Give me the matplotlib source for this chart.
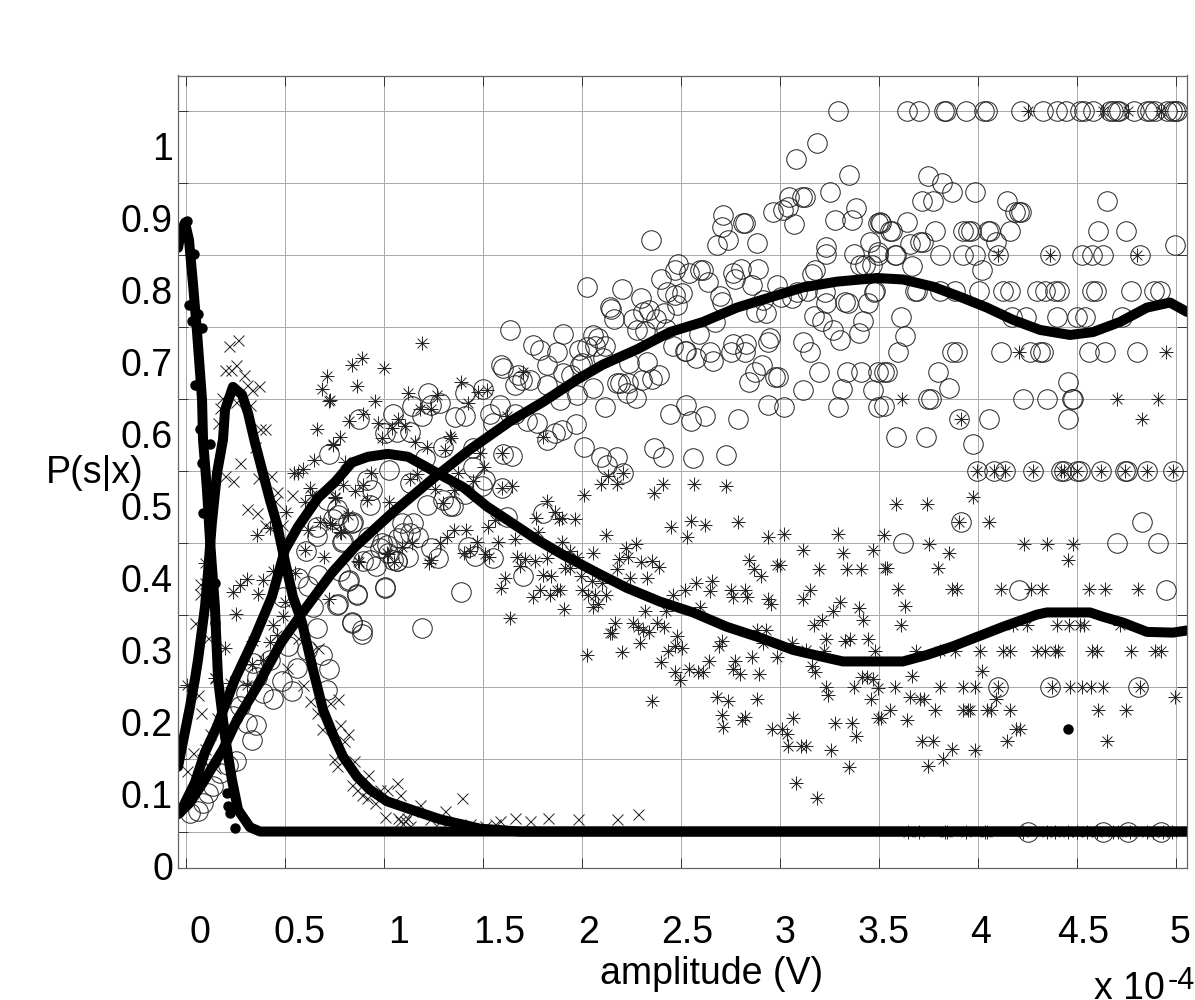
import numpy as np
import matplotlib
matplotlib.use("Agg")
import matplotlib.pyplot as plt
from matplotlib.path import Path

plt.rcParams['font.family'] = ['Liberation Sans', 'DejaVu Sans']

# amplitude is in units of 1e-4 V
circles = [
    (3.643,1),(3.704,1),(3.828,1),(3.838,1),(3.938,1),(4.030,1),(4.044,1),(4.220,1),(4.330,1),(4.397,1),(4.443,1),
    (4.515,1),(4.535,1),(4.582,1),(4.667,1),(4.683,1),(4.700,1),(4.714,1),(4.788,1),(4.852,1),(4.869,1),(4.894,1),
    (4.953,1),(4.978,1),(4.995,1),(5.003,1),
    (3.293,1),(3.187,.956),(3.081,.933),(3.348,.911),(3.045,.881),
    (3.749,.910),(3.820,.900),(3.867,.888),(3.985,.888),(3.715,.875),(3.774,.875),(4.148,.875),(4.653,.875),
    (4.187,.859),(4.209,.859),(4.220,.859),(3.505,.846),(3.508,.845),(3.643,.846),(3.556,.833),(3.564,.833),
    (3.784,.833),(3.926,.833),(3.951,.833),(3.963,.833),(4.052,.833),(4.061,.833),(4.162,.833),(4.608,.833),
    (4.747,.833),(3.657,.815),(3.707,.818),(3.724,.818),(4.091,.818),(4.995,.814),(3.497,.8),(3.581,.8),(3.586,.8),
    (3.808,.8),(3.926,.8),(3.985,.8),(4.103,.8),(4.364,.8),(4.524,.8),(4.574,.8),(4.633,.8),(4.818,.8),
    (3.665,.785),(4.020,.779),(3.480,.75),(3.682,.75),(3.690,.75),(3.808,.75),(3.884,.75),(4.007,.75),(4.128,.75),
    (4.162,.75),(4.296,.75),(4.338,.75),(4.389,.75),(4.409,.75),(4.574,.75),(4.596,.75),(4.771,.75),(4.889,.75),
    (4.919,.75),(3.609,.714),(4.170,.714),(4.242,.714),(4.397,.714),(4.502,.714),(4.540,.714),(4.726,.714),
    (3.631,.688),(3.598,.666),(3.867,.666),(3.892,.666),(4.114,.666),(4.263,.666),(4.313,.666),(4.330,.666),
    (4.561,.666),(4.641,.666),(4.805,.666),(3.525,.637),(3.539,.637),(3.796,.637),(3.855,.615),(3.749,.6),(3.761,.6),
    (4.229,.6),(4.350,.6),(4.473,.6),(4.481,.6),(4.456,.624),(3.525,.590),(3.904,.573),(4.054,.573),(4.456,.573),
    (3.586,.547),(3.737,.547),(3.973,.538),
    (3.997,.5),(4.081,.5),(4.136,.5),(4.279,.5),(4.422,.5),(4.434,.5),(4.498,.5),(4.515,.5),(4.620,.5),(4.742,.5),
    (4.751,.5),(4.852,.5),(4.983,.5),
    (2.351,.821),(2.713,.855),(2.705,.839),(2.814,.845),(2.823,.844),(2.680,.814),(2.739,.821),(2.882,.817),
    (2.966,.859),(3.016,.862),(3.042,.867),(3.109,.881),(3.126,.881),(3.070,.843),(3.255,.888),(3.277,.849),
    (3.362,.849),(3.383,.865),(3.496,.844),(3.457,.818),(3.235,.811),(3.232,.801),(3.373,.801),(3.496,.804),
    (3.404,.786),(3.429,.786),(3.463,.786),(3.176,.779),(3.163,.773),(2.397,.766),(2.486,.787),(2.469,.779),
    (2.542,.775),(2.596,.779),(2.612,.779),(2.638,.763),(2.764,.775),(2.801,.780),(2.890,.781),(2.772,.766),
    (2.857,.759),(2.986,.759),(2.023,.756),(2.200,.753),(2.296,.740),(2.427,.749),(2.503,.747),(2.469,.744),
    (2.481,.730),(2.144,.728),(2.149,.725),(2.161,.711),(2.259,.711),(2.306,.721),(2.340,.724),(2.414,.719),
    (2.373,.711),(2.697,.743),(2.705,.735),(2.915,.737),(3.003,.741),(3.059,.740),(3.084,.749),(3.138,.750),
    (3.227,.749),(3.232,.734),(3.328,.735),(3.345,.734),(3.446,.734),(3.474,.749),(2.878,.721),(2.929,.720),
    (3.173,.715),(3.210,.708),(3.420,.708),(3.266,.696),(3.303,.682),(3.397,.692),(2.276,.696),(2.318,.694),
    (2.424,.697),(2.671,.707),(2.592,.690),(2.057,.689),(2.082,.685),(2.116,.674),(1.986,.668),(2.027,.672),
    (2.065,.673),(2.104,.657),(1.990,.647),(1.947,.633),(1.998,.650),(2.461,.673),(2.520,.667),(2.528,.667),
    (2.575,.657),(2.646,.666),(2.660,.653),(2.761,.677),(2.755,.666),(2.831,.676),(2.823,.666),(2.949,.685),
    (2.941,.679),(3.114,.679),(3.151,.666),(2.239,.650),(2.330,.651),(2.390,.634),(2.178,.623),(2.192,.622),
    (2.234,.623),(2.301,.626),(2.356,.628),(2.225,.608),(2.271,.602),(2.057,.615),(1.976,.606),(2.116,.589),
    (1.969,.566),(2.444,.579),(2.528,.592),(2.621,.576),(2.553,.570),(2.786,.573),(2.907,.647),(2.873,.638),
    (2.845,.624),(2.974,.631),(2.991,.631),(3.198,.637),(3.340,.637),(3.409,.637),(3.496,.637),(3.314,.614),
    (3.114,.612),(3.468,.612),(2.941,.592),(3.021,.589),(3.291,.589),(3.496,.589),(2.010,.534),(2.094,.519),
    (2.128,.509),(2.175,.519),(2.208,.498),(2.363,.532),(2.410,.519),(2.562,.518),(2.727,.522),
    (1.754,.675),(1.636,.696),(1.905,.691),(1.788,.668),(1.872,.666),(1.589,.647),(1.602,.643),(1.821,.647),
    (1.678,.634),(1.695,.627),(1.661,.620),(1.821,.620),(1.737,.627),(1.905,.636),(1.889,.599),(1.863,.553),
    (1.897,.557),(1.771,.567),(1.720,.569),(1.821,.543),(1.661,.580),(1.586,.592),(1.535,.580),(1.552,.567),
    (1.409,.608),(1.501,.614),(1.409,.576),(1.358,.575),(1.283,.594),(1.224,.608),(1.240,.592),(1.139,.590),
    (1.047,.580),(1.190,.576),(.875,.573),(1.005,.553),(1.064,.555),(1.131,.555),(1.296,.534),(1.207,.518),
    (1.645,.521),(1.602,.524),(1.451,.532),(1.027,.502),(1.451,.506),(1.131,.483),(1.510,.488),(1.493,.479),
    (1.594,.476),(1.409,.469),(1.215,.453),(1.299,.460),(1.333,.451),(1.350,.451),(.912,.488),(.937,.474),
    (.929,.453),(.769,.439),(.820,.430),(.845,.429),(.786,.402),(.921,.409),(1.148,.428),(1.089,.428),
    (1.173,.409),(1.131,.414),(1.013,.398),(.988,.400),(1.072,.407),(.980,.393),(.929,.377),(1.047,.377),
    (1.123,.381),(1.064,.375),(1.240,.393),(1.274,.379),(1.426,.395),(1.459,.382),(1.549,.379),(1.703,.355),
    (1.005,.338),(1.389,.332),(.761,.315),(.862,.328),(.825,.349),(.836,.291),(.778,.361),(1.190,.282),(.887,.280),
    (1.619,.437),(1.804,.442),
    (.663,.410),(.791,.403),(.604,.389),(.840,.428),(.895,.375),(.959,.368),(1.022,.386),(1.064,.375),(1.097,.414),
    (1.005,.339),(.862,.329),(.766,.316),(.837,.290),(.887,.274),(.820,.347),(.668,.356),(.567,.352),(.618,.340),
    (.491,.326),(.643,.312),(.660,.283),(.685,.245),(.722,.226),(.714,.197),(.609,.252),(.559,.227),(.483,.209),
    (.533,.195),(.441,.184),(.390,.192),(.353,.148),(.333,.127),(.306,.151),(.252,.098),(.214,.093),(.172,.081),
    (.138,.063),(.113,.054),(.062,.028),(.020,.026),(.087,.040),(.340,.234),(.310,.218),(.357,.215),(.303,.192),
    (.273,.174),(.239,.160),(.517,.257),(.424,.238),(.722,.524),(.712,.46),(.763,.447),(.662,.423),(.742,.433),
    (4.255,0),(4.63,0),(4.76,0),(4.925,0),(3.623,.4),(3.915,.429),(4.208,.335),(4.701,.4),(4.911,.4),(4.830,.429),
    (4.948,.335),(4.103,.2),(4.364,.2),(4.807,.2),
]

asterisks = [
    (1.190,.678),(.836,.647),(.887,.657),(1.001,.643),(.862,.618),(.954,.597),(.727,.599),(.895,.580),(.825,.569),
    (.971,.567),(1.038,.560),(1.072,.573),(1.106,.562),(.988,.546),(1.123,.608),(1.182,.586),(1.240,.586),
    (1.269,.606),(1.389,.624),(1.473,.610),(1.518,.613),(1.426,.595),(1.333,.549),(1.336,.546),(1.156,.541),
    (1.215,.534),(1.308,.529),(.744,.536),(.778,.548),(1.703,.638),(1.619,.576),(1.801,.548),(1.594,.525),
    (1.485,.525),(.803,.513),(.932,.498),(.794,.481),(.895,.481),(.853,.473),(.752,.463),(.912,.460),(1.027,.457),
    (1.131,.489),(1.168,.496),(1.375,.497),(1.505,.506),(1.451,.486),(1.257,.475),(1.355,.474),(1.645,.480),
    (1.597,.476),(2.133,.493),(2.208,.498),(1.825,.458),(1.863,.444),(1.885,.434),(1.767,.435),(1.560,.432),
    (1.527,.423),(1.299,.456),(.820,.439),(.727,.428),(.778,.416),(1.353,.419),(1.414,.419),(1.316,.408),
    (1.468,.402),(1.577,.402),(1.661,.406),(1.779,.416),(1.283,.400),(1.139,.400),(1.089,.395),(1.022,.385),
    (.870,.375),(1.240,.377),(1.229,.373),(1.404,.386),(1.434,.389),(1.510,.385),(1.532,.381),(1.673,.381),
    (1.712,.378),(1.762,.375),(1.825,.379),(1.687,.368),(1.611,.352),(1.589,.338),(1.788,.335),(1.754,.325),
    (1.838,.328),(1.872,.335),(1.804,.356),(1.846,.354),(1.636,.296),
    (2.010,.467),(2.094,.482),(2.175,.482),(2.411,.482),(2.364,.470),(2.566,.482),(2.727,.480),(1.965,.434),
    (1.897,.435),(2.448,.422),(2.551,.431),(2.621,.426),(2.786,.429),(2.529,.408),(2.120,.412),(1.897,.402),
    (2.941,.409),(3.020,.413),(3.291,.413),(2.273,.399),(2.222,.393),(2.057,.387),(2.189,.378),(2.234,.381),
    (2.296,.374),(2.355,.375),(2.389,.367),(2.175,.364),(2.330,.352),(2.243,.352),(1.940,.389),(1.973,.381),
    (1.914,.365),(1.940,.365),(1.993,.355),(2.049,.347),(2.099,.345),(1.998,.335),(2.032,.328),(2.066,.328),
    (2.121,.328),(2.057,.312),(2.083,.316),(1.909,.309),(1.889,.335),(2.458,.328),(2.520,.335),(2.576,.345),
    (2.658,.348),(2.647,.334),(2.751,.335),(2.823,.335),(2.761,.325),(2.835,.325),(2.941,.322),(2.953,.316),
    (2.596,.312),(2.318,.306),(2.424,.306),(2.845,.377),(2.869,.364),(2.904,.354),(2.983,.370),(3.000,.370),
    (3.115,.390),(3.199,.364),(3.337,.364),(3.409,.364),(3.317,.386),(3.468,.390),(3.152,.335),(3.115,.322),
    (3.303,.319),(3.269,.306),(3.211,.294),(3.174,.287),(3.399,.310),(3.421,.293),(2.167,.289),(2.142,.275),
    (2.150,.275),(2.259,.289),(2.285,.284),(2.306,.280),(2.340,.277),(2.377,.290),(2.414,.284),(2.293,.261),
    (2.200,.249),(2.024,.245),(2.482,.271),(2.470,.258),(2.507,.255),(2.433,.251),(2.399,.235),(2.470,.222),
    (2.495,.210),(2.541,.225),(2.588,.222),(2.613,.222),(2.642,.237),(2.705,.264),(2.692,.258),(2.773,.236),
    (2.761,.225),(2.798,.219),(2.857,.242),(2.894,.219),(2.882,.280),(2.929,.280),(2.987,.242),(3.059,.261),
    (2.916,.261),(3.131,.252),(3.224,.251),(3.232,.267),(3.328,.265),(3.354,.267),(3.446,.267),(3.480,.251),
    (3.163,.229),(3.177,.222),(3.413,.215),(3.438,.215),(3.471,.211),(3.497,.199),(3.232,.200),(3.244,.190),
    (3.374,.200),(3.458,.184),(2.680,.187),(2.739,.181),(2.882,.184),(2.352,.181),(2.705,.162),(2.714,.145),
    (2.806,.155),(2.823,.159),(2.961,.142),(3.012,.142),(3.037,.136),(3.067,.157),(3.042,.119),(3.104,.119),
    (3.130,.119),(3.256,.113),(3.278,.151),(3.362,.151),(3.384,.132),(3.497,.157),(3.350,.090),(3.081,.068),
    (3.185,.046),
    (3.974,.464),(3.586,.454),(3.741,.454),(3.526,.412),(3.904,.429),(4.056,.429),(3.755,.399),(3.856,.386),
    (4.233,.399),(4.351,.399),(4.479,.399),(4.455,.377),(3.531,.365),(3.539,.365),(3.800,.365),(3.598,.336),
    (3.867,.336),(3.893,.336),(4.115,.336),(4.268,.336),(4.322,.336),(4.561,.336),(4.642,.336),(4.807,.336),
    (3.632,.313),(3.610,.287),(4.398,.287),(4.460,.287),(4.516,.287),(4.538,.287),(4.246,.287),(4.179,.287),
    (4.718,.287),(3.687,.251),(3.809,.251),(3.884,.251),(4.011,.251),(4.128,.251),(4.162,.251),(4.297,.251),
    (4.339,.251),(4.389,.251),(4.406,.251),(4.575,.251),(4.600,.251),(4.771,.251),(4.894,.251),(4.923,.251),
    (3.669,.216),(4.022,.223),(3.581,.2),(3.809,.2),(3.926,.2),(3.987,.2),(4.103,.2),(4.372,.2),(4.465,.2),
    (4.527,.2),(4.571,.2),(4.633,.2),(4.819,.2),(4.091,.184),(3.657,.187),(3.708,.184),(3.728,.184),(4.995,.187),
    (3.556,.168),(3.783,.168),(3.926,.168),(3.952,.168),(3.960,.168),(4.048,.168),(4.064,.168),(4.162,.168),
    (4.608,.168),(4.748,.168),(3.509,.158),(3.644,.155),(4.191,.142),(4.213,.142),(4.149,.126),(4.654,.126),
    (3.716,.126),(3.775,.126),(3.867,.114),(3.987,.113),(3.822,.101),(3.750,.091),
    (4.254,1),(4.633,1),(4.759,1),(4.927,1),(4.103,.8),(4.364,.8),(4.805,.8),(4.209,.666),(4.948,.666),(3.619,.6),
    (4.700,.6),(4.911,.6),(3.914,.573),(4.830,.573),
    (3.997,.5),(4.081,.5),(4.136,.5),(4.279,.5),(4.422,.5),(4.434,.5),(4.498,.5),(4.620,.5),(4.742,.5),(4.852,.5),
    (4.983,.5),
    (3.645,0),(3.704,0),(3.834,0),(3.846,0),(3.940,0),(4.036,0),(4.044,0),(4.229,0),(4.347,0),(4.389,0),(4.457,0),
    (4.499,0),(4.549,0),(4.600,0),(4.684,0),(4.709,0),(4.768,0),(4.852,0),(4.886,0),(4.937,0),(4.979,0),
    (.710,.632),(.685,.614),(.722,.598),(.660,.558),(.744,.538),(.648,.515),(.592,.503),(.567,.498),(.545,.497),
    (.626,.477),(.638,.467),(.601,.457),(.752,.464),(.503,.444),(.677,.430),(.735,.426),
    (.357,.412),(.424,.421),(.618,.419),(.781,.414),(.601,.390),(.697,.381),(.874,.374),(1.017,.386),(1.050,.374),
    (.310,.351),(.273,.342),(.239,.332),(.390,.349),(.365,.329),(.251,.302),(.500,.319),(.724,.323),(.488,.299),
    (.441,.286),(.458,.273),(.424,.263),(.197,.255),(.310,.203),(.331,.232),(.390,.238),(.003,.203),(.550,.359),
    (.441,.361),(.096,.373),(.340,.264),(.146,.213),(.222,.206),
]

crosses = [
    (.261,.682),(.217,.673),(.251,.648),(.197,.641),(.227,.641),(.293,.634),(.306,.620),(.331,.613),(.370,.618),
    (.180,.602),(.172,.588),(.251,.596),(.323,.592),(.163,.567),(.374,.558),(.399,.558),(.348,.534),(.273,.512),
    (.197,.493),(.239,.486),(.365,.491),(.427,.493),(.458,.471),(.533,.467),(.449,.458),(.310,.448),(.357,.442),
    (.399,.426),(.483,.426),(.121,.484),
    (.096,.345),(.071,.343),(.071,.329),(.045,.289),(.113,.269),(.146,.213),(.062,.190),(.074,.165),(.508,.227),
    (.592,.204),(.668,.255),(.567,.269),(.626,.181),(.660,.165),(.769,.184),(.727,.178),(.685,.142),(.778,.148),
    (.816,.135),(.798,.125),(.747,.100),(.761,.091),(.848,.098),(.921,.079),(1.064,.067),(1.081,.051),(1.005,.020),
    (.837,.065),(.862,.058),(.887,.051),(.912,.047),(.954,.040),(.980,.058),(1.013,.058),(.037,.109),(.003,.084),
    (.079,.100),(.121,.135),(.155,.158),(.096,.114),(.146,.088),(.113,.091),(.062,.077),
    (1.141,.028),(1.182,.037),(1.232,.017),(1.308,.028),(1.394,.047),(1.283,.014),(1.434,.010),(1.510,.008),
    (1.586,.014),(1.662,.019),(1.737,.014),(1.828,.019),(1.980,.017),(2.177,.017),(2.283,.024),(1.561,.010),
    (1.364,.011),(1.106,.014),(1.071,.019),(1.131,.008),(1.081,.014),(1.114,.019),
]

dots = [
    (.003,.847),(.040,.802),(.015,.731),(.062,.718),(.028,.708),(.079,.699),(.045,.619),(.121,.538),(.071,.558),
    (.079,.511),(.087,.442),(.146,.345),(.146,.289),(.205,.053),(.214,.035),(.222,.026),(.247,.005),(4.455,.142),
]

# fitted probabilities, one per class
fit_a = [(-.040,.810),(-.025,.832),(-.005,.845),(.015,.821),(.035,.761),(.056,.692),(.081,.599),(.086,.544),(.106,.474),
         (.121,.405),(.146,.312),(.162,.211),(.197,.132),(.232,.072),(.263,.030),(.323,.006),(.374,0),(5.056,0)]
fit_b = [(-.040,.090),(-.015,.125),(.020,.173),(.045,.211),(.061,.239),(.096,.312),(.111,.359),(.131,.429),(.157,.498),
         (.187,.544),(.197,.585),(.237,.617),(.283,.606),(.313,.581),(.348,.540),(.384,.502),(.424,.460),(.460,.426),
         (.490,.387),(.540,.326),(.586,.290),(.641,.225),(.692,.169),(.742,.135),(.793,.104),(.864,.076),(.929,.058),
         (1.015,.042),(1.131,.031),(1.283,.017),(1.485,.004),(1.687,0),(5.056,0)]
fit_c = [(-.030,.026),(.045,.068),(.096,.110),(.157,.146),(.247,.211),(.348,.270),(.434,.326),(.500,.391),(.566,.423),
         (.667,.463),(.753,.485),(.838,.512),(.919,.520),(1.020,.524),(1.121,.520),(1.258,.499),(1.399,.478),(1.520,.451),
         (1.636,.430),(1.773,.405),(1.904,.384),(2.076,.359),(2.227,.338),(2.394,.319),(2.561,.304),(2.732,.284),
         (2.899,.269),(3.066,.252),(3.237,.241),(3.318,.236),(3.505,.236),(3.621,.236),(3.742,.245),(3.874,.257),
         (3.995,.270),(4.126,.284),(4.298,.301),(4.348,.304),(4.566,.304),(4.631,.298),(4.732,.290),(4.854,.277),
         (4.985,.276),(5.056,.279)]
fit_d = [(-.040,.024),(.020,.040),(.086,.068),(.187,.114),(.258,.155),(.359,.201),(.480,.262),(.586,.303),(.737,.359),
         (.854,.395),(1.045,.443),(1.258,.492),(1.434,.530),(1.636,.569),(1.803,.596),(1.975,.627),
         (2.106,.648),(2.278,.669),(2.444,.693),(2.611,.707),(2.783,.727),(2.949,.741),(3.116,.755),(3.288,.763),
         (3.490,.768),(3.621,.766),(3.773,.756),(3.909,.742),(4.045,.727),(4.177,.710),(4.313,.696),(4.465,.689),
         (4.581,.693),(4.717,.707),(4.854,.727),(4.970,.734),(5.056,.721)]

x_ticks = [0, .5, 1, 1.5, 2, 2.5, 3, 3.5, 4, 4.5, 5]
x_tick_labels = ["0", "0.5", "1", "1.5", "2", "2.5", "3", "3.5", "4", "4.5", "5"]
y_ticks = [0, .1, .2, .3, .4, .5, .6, .7, .8, .9, 1]
y_tick_labels = ["0", "0.1", "0.2", "0.3", "0.4", "0.5", "0.6", "0.7", "0.8", "0.9", "1"]
# the labels in the original sit off their grid lines
x_label_pos = [.071, .576, 1.076, 1.581, 2.035, 2.530, 3.025, 3.525, 4.015, 4.530, 5.020]
y_label_pos = [-.054, .046, .146, .246, .346, .446, .546, .646, .746, .846, .946]

# MATLAB style asterisk: + and x on one marker
d = 0.7
star = Path(
    [(-1, 0), (1, 0), (0, -1), (0, 1), (-d, -d), (d, d), (-d, d), (d, -d)],
    [Path.MOVETO, Path.LINETO] * 4,
)

fig = plt.figure(figsize=(11.95, 10), dpi=100)
ax = fig.add_axes([178 / 1195, 132 / 1000, 1009 / 1195, 792.5 / 1000])

for pts, marker, size, edge in [
    (circles, "o", 19.5, 0.7),
    (asterisks, star, 14, 0.7),
    (crosses, "x", 11, 0.7),
]:
    arr = np.array(pts)
    ax.plot(arr[:, 0], arr[:, 1], linestyle="none", marker=marker, markersize=size * 0.72,
            markerfacecolor="none", markeredgecolor="#222222", markeredgewidth=edge)

arr = np.array(dots)
ax.plot(arr[:, 0], arr[:, 1], linestyle="none", marker="o", markersize=6.5, color="black")

for fit in [fit_a, fit_b, fit_c, fit_d]:
    arr = np.array(fit)
    ax.plot(arr[:, 0], arr[:, 1], color="black", linewidth=7.2, solid_capstyle="round", solid_joinstyle="round")

ax.set_xlim(-.0404, 5.056)
ax.set_ylim(-.0506, 1.049)
ax.set_xticks(x_ticks)
ax.set_yticks(y_ticks)
ax.set_xticklabels([])
ax.set_yticklabels([])
ax.grid(True, color="#a8a8a8", linewidth=0.7)
ax.set_axisbelow(True)
ax.tick_params(direction="in", length=7, width=0.7, color="#333333", top=True, right=True)
for s in ax.spines.values():
    s.set_linewidth(0.9)
    s.set_color("#666666")

for pos, lab in zip(x_label_pos, x_tick_labels):
    ax.text(pos, -.141, lab, fontsize=27, ha="center", va="center", clip_on=False)
for pos, lab in zip(y_label_pos, y_tick_labels):
    ax.text(-.066, pos, lab, fontsize=27, ha="right", va="center", clip_on=False)

ax.text(2.655, -.197, "amplitude (V)", fontsize=27, ha="center", va="center")
ax.text(-.46, .497, "P(s|x)", fontsize=27, ha="center", va="center")
fig.text(1094 / 1195, 1 / 1000, "x 10", fontsize=27, ha="left", va="baseline")
fig.text(1168 / 1195, 11 / 1000, "-4", fontsize=22, ha="left", va="baseline")

fig.savefig("out.png", dpi=100)
